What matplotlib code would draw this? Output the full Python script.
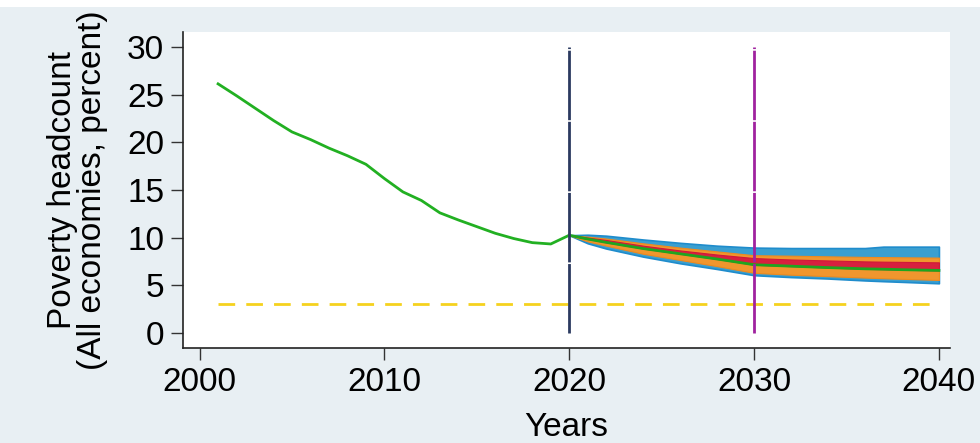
import matplotlib
matplotlib.use("Agg")
import matplotlib.pyplot as plt
from matplotlib.patches import Rectangle

plt.rcParams['font.family'] = ['Liberation Sans', 'DejaVu Sans']

# Historical series
hist_years = [2001, 2002, 2003, 2004, 2005, 2006, 2007, 2008, 2009, 2010,
              2011, 2012, 2013, 2014, 2015, 2016, 2017, 2018, 2019, 2020]
hist_values = [26.15, 24.9, 23.6, 22.3, 21.1, 20.3, 19.4, 18.6, 17.7, 16.2,
               14.8, 13.9, 12.6, 11.85, 11.15, 10.45, 9.9, 9.47, 9.33, 10.25]

# Projection fan
fan_years = [2020, 2021, 2022, 2024, 2026, 2028, 2030, 2032, 2034, 2036, 2037, 2038, 2040]
blue_hi   = [10.25, 10.3, 10.2, 9.8, 9.45, 9.15, 8.95, 8.9, 8.9, 8.9, 9.05, 9.05, 9.05]
orange_hi = [10.25, 10.1, 9.9, 9.4, 8.95, 8.55, 8.15, 8.1, 8.03, 7.97, 7.95, 7.93, 7.9]
red_hi    = [10.25, 10.0, 9.75, 9.15, 8.65, 8.22, 7.85, 7.7, 7.6, 7.5, 7.47, 7.45, 7.4]
median    = [10.25, 9.85, 9.5, 8.85, 8.3, 7.75, 7.15, 7.0, 6.85, 6.72, 6.68, 6.63, 6.55]
orange_lo = [10.25, 9.6, 9.15, 8.3, 7.65, 7.0, 6.3, 6.1, 5.95, 5.8, 5.73, 5.67, 5.55]
blue_lo   = [10.25, 9.4, 8.85, 8.0, 7.3, 6.7, 6.05, 5.85, 5.7, 5.5, 5.42, 5.35, 5.2]

target_value = 3
target_years = [2001, 2040]
vline_years = [2020, 2030]
vline_top = 30

yticks = [0, 5, 10, 15, 20, 25, 30]
xticks = [2000, 2010, 2020, 2030, 2040]

bg = '#e8eff3'
fig = plt.figure(figsize=(9.8, 4.43), dpi=100, facecolor=bg)
fig.patches.append(Rectangle((0, 0.984), 1, 0.016, transform=fig.transFigure,
                             facecolor='white', edgecolor='none', zorder=0))
ax = fig.add_axes([0.1867, 0.2144, 0.9694 - 0.1867, 0.9278 - 0.2144])
ax.set_facecolor('white')

ax.fill_between(fan_years, blue_lo, blue_hi, color='#3a9fd0', edgecolor='#1f8ccc', lw=1.2, zorder=2)
ax.fill_between(fan_years, orange_lo, orange_hi, color='#f0962e', edgecolor='#ee8a1e', lw=0.8, zorder=3)
ax.fill_between(fan_years, median, red_hi, color='#d8203f', edgecolor='#d01838', lw=0.8, zorder=4)
ax.plot(fan_years, median, color='#1fa51f', lw=2, zorder=5)

ax.plot(hist_years, hist_values, color='#22b022', lw=2, zorder=5)

ax.plot(target_years, [target_value, target_value], color='#f5d21e', lw=2,
        dashes=(6, 4), zorder=3)

ax.vlines(vline_years[0], 0, vline_top, color='#2b3a60', lw=2, zorder=6,
          linestyles=[(0, (25, 0.6))])
ax.vlines(vline_years[1], 0, vline_top, color='#a0229f', lw=2, zorder=6,
          linestyles=[(0, (25, 0.6))])

ax.set_xlim(1999.1, 2040.6)
ax.set_ylim(-1.6, 31.6)
ax.set_xticks(xticks)
ax.set_yticks(yticks)
ax.tick_params(axis='both', labelsize=24, length=8.5, width=1, color='#333333',
               direction='out', pad=5)
for s in ['top', 'right']:
    ax.spines[s].set_visible(False)
for s in ['left', 'bottom']:
    ax.spines[s].set_color('#222222')
    ax.spines[s].set_linewidth(1.2)

ax.set_xlabel('Years', fontsize=24, labelpad=10)
ax.set_ylabel('Poverty headcount\n(All economies, percent)', fontsize=24,
              labelpad=14, linespacing=0.95)

fig.savefig('out.png', dpi=100, facecolor=bg)
